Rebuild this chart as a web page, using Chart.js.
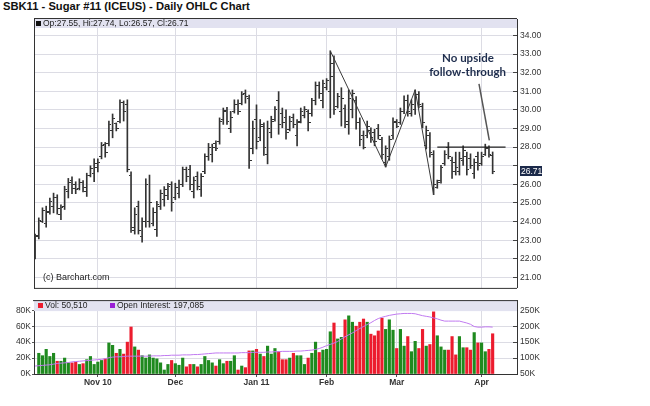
<!DOCTYPE html>
<html>
<head>
<meta charset="utf-8">
<title>SBK11 - Sugar #11 (ICEUS) - Daily OHLC Chart</title>
<script src="https://cdn.jsdelivr.net/npm/chart.js@4.4.1/dist/chart.umd.min.js"></script>
<style>
  html, body { margin: 0; padding: 0; background: #fff; }
  body { width: 650px; height: 406px; position: relative; overflow: hidden; }
  #title { position: absolute; left: 3px; top: 0; line-height: 12px; font: bold 11.2px "Liberation Sans", Arial, sans-serif; color: #111; white-space: nowrap; }
  canvas { position: absolute; left: 0; }
  #priceCanvas { top: 0; }
  #volCanvas { top: 288px; }
</style>
</head>
<body>
<div id="title">SBK11 - Sugar #11 (ICEUS) - Daily OHLC Chart</div>
<canvas id="priceCanvas" width="650" height="300"></canvas>
<canvas id="volCanvas" width="650" height="118"></canvas>
<script>
// daily bars, oldest first (index = trading day)
const opens = [
  22.10, 23.25, 24.00, 23.90, 24.55, 24.80, 25.30, 24.40, 24.80, 25.60,
  26.20, 26.00, 25.80, 26.10, 25.60, 26.50, 26.60, 26.90, 27.50, 28.15,
  28.20, 28.90, 29.25, 29.40, 30.40, 30.30, 26.50, 23.50, 24.80, 23.20,
  24.00, 24.00, 23.90, 23.60, 24.80, 25.20, 25.40, 26.00, 25.30, 25.50,
  26.00, 26.80, 26.80, 25.60, 26.40, 25.70, 26.70, 27.50, 27.60, 28.20,
  28.30, 29.50, 29.95, 29.00, 29.90, 30.30, 30.35, 30.90, 30.60, 27.90,
  29.50, 28.50, 29.10, 27.60, 28.80, 29.50, 30.50, 29.80, 29.60, 28.95,
  29.60, 28.60, 29.40, 29.70, 29.90, 29.80, 30.50, 31.30, 30.50, 31.20,
  31.00, 32.50, 30.20, 29.90, 30.10, 29.20, 30.00, 30.50, 29.30, 28.60,
  28.60, 28.90, 28.80, 29.00, 28.40, 27.20, 27.50, 28.60, 29.40, 29.30,
  29.90, 30.50, 29.80, 30.00, 30.80, 30.20, 28.10, 28.60, 27.60, 25.85,
  26.20, 27.10, 28.00, 27.30, 27.20, 26.70, 27.30, 27.50, 27.40, 26.60,
  27.50, 27.10, 27.60, 27.95, 27.55
];
const highs = [
  23.33, 24.20, 24.74, 24.83, 25.27, 25.53, 25.44, 24.90, 25.90, 26.32,
  26.40, 26.14, 26.30, 26.20, 26.60, 27.00, 27.37, 27.37, 28.25, 28.25,
  29.40, 29.78, 29.30, 30.54, 30.48, 30.54, 26.67, 24.74, 25.10, 24.20,
  26.30, 26.50, 24.74, 25.09, 25.70, 25.88, 26.06, 26.14, 26.06, 26.23,
  26.93, 26.93, 27.02, 26.40, 26.67, 26.58, 27.64, 28.20, 28.16, 28.34,
  29.57, 30.10, 30.13, 29.92, 30.54, 30.54, 30.98, 31.07, 30.80, 29.40,
  30.27, 29.48, 29.30, 29.40, 29.66, 30.18, 30.98, 30.10, 30.00, 29.66,
  29.78, 29.48, 30.10, 30.18, 30.00, 30.62, 31.50, 31.50, 31.60, 31.68,
  33.17, 32.90, 30.89, 31.19, 30.27, 31.07, 31.07, 30.71, 29.57, 28.87,
  29.40, 29.04, 28.96, 29.22, 28.52, 28.07, 28.60, 29.57, 29.48, 30.10,
  30.75, 30.80, 30.54, 31.07, 30.98, 30.36, 29.13, 28.78, 27.81, 26.23,
  27.02, 27.81, 28.25, 27.46, 27.73, 27.73, 28.07, 27.73, 27.64, 27.37,
  27.73, 27.73, 28.16, 28.07, 27.74
];
const lows = [
  22.00, 23.07, 23.95, 23.70, 24.40, 24.47, 24.40, 24.10, 24.65, 25.27,
  25.50, 25.50, 25.70, 25.60, 25.35, 26.40, 26.15, 26.67, 27.37, 27.46,
  28.07, 28.50, 28.87, 29.30, 29.40, 26.67, 23.42, 23.33, 23.33, 22.90,
  23.70, 23.70, 23.77, 23.21, 24.65, 24.83, 25.18, 24.56, 25.18, 25.27,
  25.88, 26.14, 25.70, 25.27, 25.70, 25.35, 26.58, 27.29, 27.20, 27.81,
  28.16, 29.22, 29.22, 28.78, 29.83, 29.75, 30.27, 30.36, 26.85, 27.64,
  27.90, 28.34, 27.55, 27.10, 28.50, 29.40, 28.69, 29.04, 28.43, 28.87,
  29.04, 28.07, 29.30, 29.57, 28.87, 29.66, 30.27, 30.62, 30.10, 31.07,
  29.57, 29.75, 30.10, 29.13, 29.04, 28.69, 29.57, 28.96, 28.07, 27.90,
  28.50, 28.25, 28.07, 28.43, 27.37, 26.93, 27.29, 28.43, 29.04, 29.22,
  29.80, 29.66, 29.66, 29.75, 30.10, 29.04, 27.90, 27.46, 25.45, 25.79,
  26.06, 27.02, 27.37, 26.32, 26.50, 26.50, 27.02, 26.50, 26.85, 26.32,
  26.76, 27.02, 27.55, 27.46, 26.57
];
const closes = [
  23.20, 24.05, 24.60, 24.50, 25.10, 25.30, 24.70, 24.75, 25.70, 26.10,
  25.80, 25.75, 26.10, 25.85, 26.45, 26.85, 27.10, 27.20, 28.10, 27.70,
  29.20, 29.55, 29.00, 30.40, 29.90, 26.80, 23.70, 24.40, 23.50, 24.00,
  26.00, 25.00, 24.50, 24.90, 25.50, 25.70, 25.90, 25.00, 25.85, 26.00,
  26.80, 26.40, 26.00, 26.20, 25.90, 26.40, 27.50, 28.00, 28.00, 27.95,
  29.40, 29.90, 29.40, 29.60, 30.30, 29.90, 30.80, 30.70, 27.30, 29.00,
  28.30, 29.20, 28.00, 29.00, 29.40, 30.00, 29.20, 29.30, 28.80, 29.40,
  29.20, 29.30, 29.90, 30.00, 29.30, 30.50, 31.30, 30.90, 31.40, 31.60,
  31.80, 30.00, 30.70, 30.60, 29.40, 30.60, 30.90, 29.30, 28.40, 28.00,
  29.10, 28.50, 28.30, 28.60, 27.60, 27.90, 28.40, 29.30, 29.10, 29.90,
  30.50, 29.90, 30.30, 30.80, 30.30, 29.30, 28.90, 27.70, 26.00, 26.10,
  26.90, 27.60, 27.50, 26.70, 26.90, 27.40, 27.80, 26.80, 27.00, 27.20,
  27.00, 27.50, 28.00, 27.60, 26.71
];
const volumes = [
  null, 26000, 23000, 31000, 22000, 26000, 16000, 16000, 20000, 14000,
  14000, 15000, 12000, 13000, 18000, 22000, 12000, 15000, 17000, 19000,
  39000, 36000, 26000, 31000, 25000, 40000, 59000, 34000, 30000, 23000,
  20000, 24000, 20000, 19000, 14000, 5000, 12000, 17000, 13000, 11000,
  20000, 9000, 12000, 12000, 9000, 12000, 22000, 17000, 14000, 10000,
  18000, 13000, 16000, 16000, 23000, 5000, 10000, 8000, 29000, 29000,
  31000, 25000, 22000, 35000, 25000, 32000, 28000, 18000, 18000, 20000,
  26000, 23000, 23000, 12000, 20000, 26000, 40000, 27000, 30000, 31000,
  53000, 64000, 44000, 46000, 68000, 73000, 65000, 60000, 65000, 69000,
  65000, 50000, 48000, 54000, 70000, 56000, 68000, 55000, 32000, 56000,
  35000, 47000, 28000, 41000, 32000, 56000, 35000, 37000, 78000, 48000,
  34000, 30000, 30000, 47000, 24000, 47000, 33000, 33000, 30000, 52000,
  39000, 39000, 28000, 31000, 50510
];
const openInterest = [
  75000, 76000, 77000, 78000, 79000, 81000, 83000, 84000, 85000, 86000,
  88000, 89000, 90000, 91000, 92000, 93000, 94000, 95000, 96000, 98000,
  101000, 103000, 104000, 104000, 105000, 106000, 106000, 106000, 106000, 106000,
  106000, 106000, 107000, 107000, 107000, 108000, 108000, 109000, 109000, 109000,
  110000, 110000, 110000, 111000, 111000, 112000, 113000, 114000, 115000, 116000,
  116000, 116000, 116000, 116000, 116000, 116000, 117000, 117000, 117000, 118000,
  118000, 118000, 118000, 119000, 119000, 120000, 120000, 121000, 121000, 121000,
  121000, 122000, 122000, 123000, 124000, 125000, 127000, 130000, 134000, 139000,
  143000, 147000, 152000, 160000, 167000, 173000, 179000, 186000, 193000, 199000,
  205000, 211000, 218000, 224000, 228000, 231000, 234000, 236000, 238000, 239000,
  240000, 240000, 240000, 239000, 236000, 233000, 231000, 229000, 226000, 223000,
  219000, 216000, 216000, 216000, 216000, 216000, 213000, 210000, 206000, 199000,
  197000, 197000, 198000, 198000, 197085
];

// month labels sit on the first trading day of each month
const monthIdx = [17, 38, 60, 79, 98, 121];
const monthLabels = ['Nov 10', 'Dec', 'Jan 11', 'Feb', 'Mar', 'Apr'];
const priceTicks = [21, 22, 23, 24, 25, 26, 27, 28, 29, 30, 31, 32, 33, 34];
const volTicks = [0, 20000, 40000, 60000, 80000];
const oiTicks = [50000, 100000, 150000, 200000, 250000];

// hand-drawn annotations (bar index, price)
const zigzag = [[80, 33.17], [95, 26.93], [103, 31.07], [108, 25.45]];
const resistance = [[109, 28.0], [127.5, 28.0]];
const pointer = [[120.3, 31.4], [123.1, 28.36]];
const noteLines = ['No upside', 'follow-through'];

const FONT = '"Liberation Sans", Arial, sans-serif';
const GRID = '#dcdce4';
const INK = '#333';
const UP = '#1f8a1f';
const DOWN = '#ec1c2e';
const STRIP = '#e2e2f0';

Chart.defaults.font.family = FONT;
Chart.defaults.color = '#333';

const last = closes.length - 1;
const xMin = -0.3, xMax = 130.6;
const fmt = n => n.toLocaleString('en-US');

function monthTicks(scale) {
  scale.ticks = monthIdx.map(v => ({ value: v }));
}

function tickMark(side) {
  const c = document.createElement('canvas');
  c.width = 5; c.height = 1;
  const g = c.getContext('2d');
  g.fillStyle = INK;
  g.fillRect(side === 'open' ? 0 : 3, 0, 2, 1);
  return c;
}

function pts(list) {
  return list.map(([x, y]) => ({ x, y }));
}

// strip, legend, frame and labels drawn around each panel
const panelDeco = {
  id: 'panelDeco',
  beforeDatasetsDraw(chart, args, o) {
    const { ctx, chartArea: a } = chart;
    ctx.save();
    ctx.fillStyle = STRIP;
    ctx.fillRect(a.left, a.top, a.right - a.left, o.stripHeight);
    ctx.font = '8.5px ' + FONT;
    ctx.textBaseline = 'middle';
    const my = a.top + o.stripHeight / 2;
    o.legend.forEach(item => {
      ctx.fillStyle = item.color;
      ctx.fillRect(item.x, Math.round(my) - 3, 5, 5);
      ctx.fillStyle = '#222';
      ctx.fillText(item.text, item.x + 7, my + 0.5);
    });
    ctx.restore();
  },
  afterDraw(chart, args, o) {
    const { ctx, chartArea: a } = chart;
    ctx.save();
    ctx.strokeStyle = '#333';
    ctx.lineWidth = 1;
    ctx.beginPath();
    o.frame.forEach(([x1, y1, x2, y2]) => {
      ctx.moveTo(x1(a), y1(a));
      ctx.lineTo(x2(a), y2(a));
    });
    ctx.stroke();
    if (o.after) o.after(chart, ctx, a);
    ctx.restore();
  }
};

function drawPriceExtras(chart, ctx, a) {
  const xs = chart.scales.x, ys = chart.scales.y;
  // last price tag on the axis
  const y = ys.getPixelForValue(closes[last]);
  ctx.fillStyle = '#1c2a4a';
  ctx.fillRect(a.right + 3, Math.round(y) - 5, 22, 10);
  ctx.fillStyle = '#fff';
  ctx.font = '8.5px ' + FONT;
  ctx.textBaseline = 'middle';
  ctx.textAlign = 'left';
  ctx.fillText(closes[last].toFixed(2), a.right + 4, y + 0.5);

  ctx.fillStyle = '#222';
  ctx.font = '9px ' + FONT;
  ctx.fillText('(c) Barchart.com', a.left + 9, a.bottom - 10);

  ctx.fillStyle = '#1e2d4d';
  ctx.font = 'bold 11.5px Lato, ' + FONT;
  ctx.textAlign = 'center';
  ctx.fillText(noteLines[0], xs.getPixelForValue(117.3), ys.getPixelForValue(32.77));
  ctx.fillText(noteLines[1], xs.getPixelForValue(117.2), ys.getPixelForValue(32.03));
}

const ohlcText = 'Op:' + opens[last].toFixed(2) + ', Hi:' + highs[last].toFixed(2) +
  ', Lo:' + lows[last].toFixed(2) + ', Cl:' + closes[last].toFixed(2);

new Chart(document.getElementById('priceCanvas'), {
  type: 'bar',
  data: {
    datasets: [
      {
        type: 'bar',
        data: highs.map((h, i) => ({ x: i, y: [lows[i], h] })),
        backgroundColor: INK,
        barThickness: 1,
        order: 5
      },
      {
        type: 'scatter',
        data: opens.map((v, i) => ({ x: i, y: v })),
        pointStyle: tickMark('open'),
        pointRadius: 3,
        order: 4
      },
      {
        type: 'scatter',
        data: closes.map((v, i) => ({ x: i, y: v })),
        pointStyle: tickMark('close'),
        pointRadius: 3,
        order: 4
      },
      { type: 'line', data: pts(zigzag), borderColor: '#3a3a3a', borderWidth: 1, pointRadius: 0, order: 1 },
      { type: 'line', data: pts(resistance), borderColor: '#222', borderWidth: 1.2, pointRadius: 0, order: 1 },
      { type: 'line', data: pts(pointer), borderColor: '#555', borderWidth: 1.5, pointRadius: 0, order: 1 }
    ]
  },
  options: {
    responsive: false,
    animation: false,
    events: [],
    layout: { padding: { left: 34, top: 19, right: 0, bottom: 7 } },
    plugins: {
      legend: { display: false },
      tooltip: { enabled: false },
      panelDeco: {
        stripHeight: 9,
        legend: [{ x: 36, color: '#111', text: ohlcText }],
        frame: [
          [a => a.left, a => a.top - 0.5, a => a.right, a => a.top - 0.5],
          [a => a.left + 0.5, a => a.top - 1, a => a.left + 0.5, a => a.bottom + 1],
          [a => a.left, a => a.bottom + 0.5, a => a.right, a => a.bottom + 0.5]
        ],
        after: drawPriceExtras
      }
    },
    scales: {
      x: {
        type: 'linear',
        offset: false,
        min: xMin,
        max: xMax,
        afterBuildTicks: monthTicks,
        afterFit: s => { s.height = 0; },
        ticks: { display: false },
        grid: { color: GRID, drawTicks: false, offset: false },
        border: { display: false }
      },
      y: {
        position: 'right',
        min: 20.44,
        max: 34.88,
        afterBuildTicks: s => { s.ticks = priceTicks.map(v => ({ value: v })); },
        afterFit: s => { s.width = 133; },
        ticks: {
          font: { size: 8.5 },
          color: '#333',
          padding: 7,
          callback: v => Math.abs(v - closes[last]) < 0.45 ? '' : v.toFixed(2)
        },
        grid: { color: GRID, tickLength: -4, tickColor: '#444' },
        border: { display: true, color: '#333' }
      }
    }
  },
  plugins: [panelDeco]
});

new Chart(document.getElementById('volCanvas'), {
  type: 'bar',
  data: {
    datasets: [
      {
        type: 'line',
        yAxisID: 'yo',
        data: openInterest.map((v, i) => ({ x: i, y: v })),
        borderColor: '#c07af0',
        borderWidth: 1,
        pointRadius: 0,
        order: 0
      },
      {
        type: 'bar',
        yAxisID: 'yv',
        data: volumes.map((v, i) => ({ x: i, y: v })),
        backgroundColor: c => closes[c.dataIndex] >= opens[c.dataIndex] ? UP : DOWN,
        barThickness: 2.5,
        order: 1
      }
    ]
  },
  options: {
    responsive: false,
    animation: false,
    events: [],
    layout: { padding: { left: 0, top: 6, right: 0, bottom: 0 } },
    plugins: {
      legend: { display: false },
      tooltip: { enabled: false },
      panelDeco: {
        stripHeight: 11,
        legend: [
          { x: 38, color: DOWN, text: 'Vol: ' + fmt(volumes[last]) },
          { x: 110, color: '#9a1fd6', text: 'Open Interest: ' + fmt(openInterest[last]) }
        ],
        frame: [
          [a => a.left - 1, a => a.top + 0.5, a => a.right, a => a.top + 0.5]
        ]
      }
    },
    scales: {
      x: {
        type: 'linear',
        offset: false,
        min: xMin,
        max: xMax,
        afterBuildTicks: monthTicks,
        afterFit: s => { s.height = 32; },
        ticks: {
          font: { size: 8.5, weight: 'bold' },
          color: '#333',
          padding: 1,
          autoSkip: false,
          maxRotation: 0,
          callback: v => monthLabels[monthIdx.indexOf(v)] || ''
        },
        grid: { color: GRID, tickLength: 3, tickColor: '#555', offset: false },
        border: { color: '#333' }
      },
      yv: {
        position: 'left',
        min: 0,
        max: 92750,
        afterBuildTicks: s => { s.ticks = volTicks.map(v => ({ value: v })); },
        afterFit: s => { s.width = 34; },
        ticks: { font: { size: 8.5 }, color: '#333', padding: 1, callback: v => v / 1000 + 'K' },
        grid: { color: GRID, tickLength: 2, tickColor: '#555' },
        border: { color: '#333' }
      },
      yo: {
        position: 'right',
        min: 50000,
        max: 281900,
        afterBuildTicks: s => { s.ticks = oiTicks.map(v => ({ value: v })); },
        afterFit: s => { s.width = 133; },
        ticks: { font: { size: 8.5 }, color: '#333', padding: 7, callback: v => v / 1000 + 'K' },
        grid: { drawOnChartArea: false, tickLength: -4, tickColor: '#444' },
        border: { color: '#333' }
      }
    }
  },
  plugins: [panelDeco]
});
</script>
</body>
</html>
